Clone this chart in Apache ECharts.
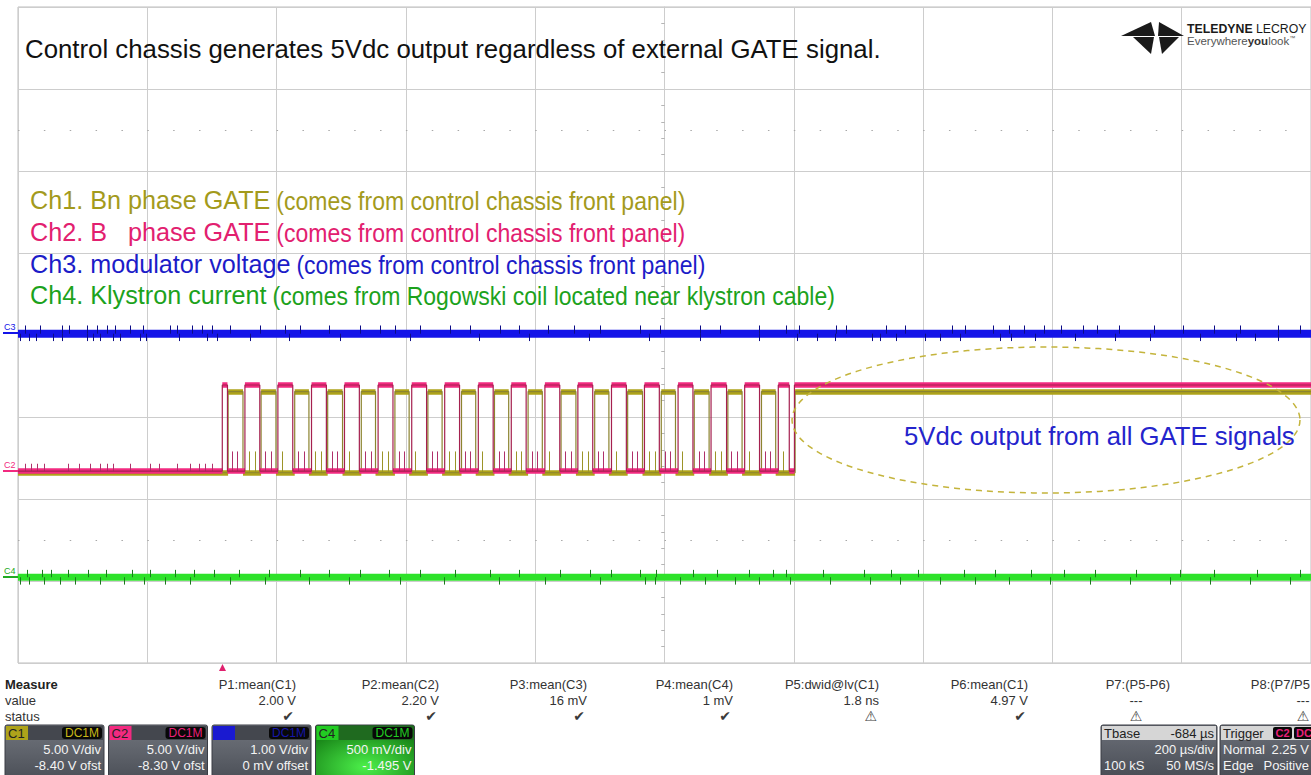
<!DOCTYPE html>
<html><head><meta charset="utf-8">
<script src="https://cdn.jsdelivr.net/npm/echarts@6/dist/echarts.min.js"></script>
<style>html,body{margin:0;padding:0;background:#fff;overflow:hidden}#c{width:1311px;height:775px}</style>
</head><body><div id="c"></div>
<script>
// ================= DATA =================
// Time axis: 200 us/div, 10 div, trigger (t = 0) at the pink C2 first rising edge
const timeWindow = [-316, 1684];               // us, left/right edge of the screen
const channelNames = ['C1', 'C2', 'C3', 'C4'];
const voltsPerDiv = [5.0, 5.0, 1.0, 0.5];       // V/div
const offsetVolts = [-8.40, -8.30, 0.0, -1.495]; // V offset
// Gate signal levels (V): [low, high]
const c1Levels = [0.0, 4.95];
const c2Levels = [0.0, 5.25];
const c3Level = 0.016;   // modulator voltage, V
const c4Level = 0.018;   // klystron current probe, V
// Ch2 (B phase GATE) edges, us
const c2Rise = [0, 35, 86, 138, 189, 241, 293, 344, 396, 447, 499, 550, 602, 653, 705, 756, 808, 860, 885];
const c2Fall = [8, 58, 109, 161, 212, 264, 316, 367, 419, 470, 522, 573, 625, 676, 728, 780, 831, 877];
// Ch1 (Bn phase GATE) edges, us
const c1Rise = [9, 60, 112, 163, 215, 267, 318, 370, 421, 473, 524, 576, 627, 679, 730, 782, 834, 886];
const c1Fall = [32, 83, 134, 186, 237, 289, 340, 392, 443, 495, 547, 598, 650, 701, 753, 804, 856];
// noise / crosstalk spikes, us
const c2CrossSpikes = [15, 23, 66, 75, 118, 126, 170, 178, 221, 230, 273, 281, 324, 333, 376, 384, 428, 436, 479, 487, 530, 539, 582, 590, 634, 642, 685, 693, 737, 745, 788, 797, 840, 848];
const c1CrossSpikes = [42, 51, 93, 144, 153, 196, 247, 256, 299, 351, 360, 402, 454, 463, 505, 557, 566, 609, 660, 669, 712, 763, 772, 815, 867];
const c2PreSpikes = [-305, -295, -286, -275, -239, -221, -205, -189, -178, -169, -143, -112, -97, -70, -50, -35, -26, -15];
const c3SpikesUp = [-305, -282, -248, -236, -209, -194, -178, -166, -143, -123, -81, -70, -46, -31, -15, 12, 58, 97, 120, 166, 213, 244, 267, 306, 352, 383, 430, 460, 504, 545, 584, 646, 677, 739, 770, 831, 873, 893, 949, 965, 1027, 1056, 1129, 1149, 1192, 1218, 1241, 1272, 1298, 1331, 1354, 1388, 1442, 1486, 1535, 1574, 1633, 1667];
const c3SpikesDown = [-313, -298, -287, -262, -248, -209, -200, -189, -169, -158, -127, -117, -66, -24, -8, 43, 104, 182, 290, 398, 475, 568, 661, 739, 831, 890, 920, 948, 1006, 1017, 1043, 1087, 1110, 1141, 1203, 1221, 1257, 1319, 1381, 1435, 1512, 1569, 1597, 1633];
const c4SpikesUp = [-302, -279, -264, -239, -208, -179, -140, -112, -73, -43, -12, 27, 73, 120, 166, 213, 259, 306, 360, 414, 460, 522, 569, 601, 647, 672, 728, 766, 815, 852, 872, 929, 993, 1035, 1076, 1147, 1195, 1252, 1302, 1350, 1413, 1481, 1534, 1601, 1667];
const c4SpikesDown = [-313, -298, -275, -251, -228, -189, -151, -120, -89, -50, 12, 66, 135, 197, 275, 344, 429, 499, 584, 654, 669, 708, 747, 793, 831, 878, 940, 1002, 1048, 1110, 1164, 1218, 1280, 1342, 1404, 1466, 1528, 1590, 1652];
// spike heights, V: [c1 cross, c2 cross, c2 pre, c3 up, c3 down, c4 up, c4 down]
const spikeHeights = [1.3, 1.2, 0.45, 0.10, -0.09, 0.045, -0.045];

// bottom measurement panel
const measureLabels = ['P1:mean(C1)', 'P2:mean(C2)', 'P3:mean(C3)', 'P4:mean(C4)', 'P5:dwid@lv(C1)', 'P6:mean(C1)', 'P7:(P5-P6)', 'P8:(P7/P5'];
const measureValues = ['2.00 V', '2.20 V', '16 mV', '1 mV', '1.8 ns', '4.97 V', '---', '---'];
const measureStatus = ['ok', 'ok', 'ok', 'ok', 'warn', 'ok', 'warn', 'warn'];
const chPerDivText = ['5.00 V/div', '5.00 V/div', '1.00 V/div', '500 mV/div'];
const chOffsetText = ['-8.40 V ofst', '-8.30 V ofst', '0 mV offset', '-1.495 V'];
const timebaseText = ['-684 \u00b5s', '200 \u00b5s/div', '100 kS', '50 MS/s'];
const triggerText = ['C2', 'DC', 'Normal', '2.25 V', 'Edge', 'Positive'];

// ================= STYLE =================
const COL = {
  c1: '#aea31a', c1Edge: '#8c8430', c1Txt: '#a39a1c', c1Spike: '#9c9428',
  c2: '#f22a80', c2Edge: '#a5214f', c2Txt: '#e2206f', c2Spike: '#b0306a',
  c3: '#1414e8', c3Spike: '#0c0c86', c3Txt: '#1c1cc8',
  c4: '#2ee22a', c4Spike: '#1c7a1c', c4Txt: '#1ca21c',
  grid: '#cdcdcd'
};
const FONT = "'Liberation Sans', Arial, sans-serif";
const measureCtx = document.createElement('canvas').getContext('2d');
function textWidth(s, font) { measureCtx.font = font; return measureCtx.measureText(s).width; }

// ================= BUILDERS =================
function stepPoints(rise, fall, lv) {
  const pts = [[timeWindow[0], lv[0]]];
  for (let i = 0; i < rise.length; i++) {
    pts.push([rise[i], lv[0]], [rise[i], lv[1]]);
    if (i < fall.length) pts.push([fall[i], lv[1]], [fall[i], lv[0]]);
  }
  const last = rise.length > fall.length ? lv[1] : lv[0];
  pts.push([timeWindow[1], last]);
  return pts;
}
function bands(rise, fall, lv) {
  const segs = [];
  let t = timeWindow[0];
  for (let i = 0; i < rise.length; i++) {
    segs.push({ coords: [[t, lv[0]], [rise[i], lv[0]]] });
    const end = i < fall.length ? fall[i] : timeWindow[1];
    segs.push({ coords: [[rise[i], lv[1]], [end, lv[1]]] });
    t = end;
  }
  if (rise.length === fall.length) segs.push({ coords: [[t, lv[0]], [timeWindow[1], lv[0]]] });
  return segs;
}
function spikes(times, base, h) {
  return times.map(t => ({ coords: [[t, base], [t, base + h]] }));
}
function chAxis(i) {
  const center = -offsetVolts[i];
  return { type: 'value', gridIndex: 0, show: false, min: center - 4 * voltsPerDiv[i], max: center + 4 * voltsPerDiv[i] };
}

const chart = echarts.init(document.getElementById('c'), null, { renderer: 'svg' });

// ---------- graphic overlay ----------
const G = [];
function txt(x, y, text, o, extra) {
  G.push(Object.assign({ type: 'text', x: x, y: y, z: 50, silent: true,
    style: Object.assign({ text: text, font: '13px ' + FONT, fill: '#222', textAlign: 'left', textVerticalAlign: 'middle' }, o || {}) }, extra || {}));
}
// title
txt(25, 49, 'Control chassis generates 5Vdc output regardless of external GATE signal.', { font: '25.8px ' + FONT, fill: '#111' });
// legend lines
const legendMain = ['Ch1. Bn phase GATE', 'Ch2. B   phase GATE', 'Ch3. modulator voltage', 'Ch4. Klystron current'];
const legendNote = ['(comes from control chassis front panel)', '(comes from control chassis front panel)', '(comes from control chassis front panel)', '(comes from Rogowski coil located near klystron cable)'];
const legendCols = [COL.c1Txt, COL.c2Txt, COL.c3Txt, COL.c4Txt];
const legendY = [200, 232, 264, 295];
const mainFont = '25.2px ' + FONT, noteFont = '25px ' + FONT;
legendMain.forEach((m, i) => {
  txt(30, legendY[i], m, { font: mainFont, fill: legendCols[i] });
  txt(30 + textWidth(m, mainFont) + 6, legendY[i] + 1, legendNote[i], { font: noteFont, fill: legendCols[i] }, { scaleX: 0.92 });
});
// annotation ellipse + text
(function () {
  const pts = [];
  for (let k = 0; k <= 120; k++) { const a = k / 120 * Math.PI * 2; pts.push([1046 + 254 * Math.cos(a), 420 + 73 * Math.sin(a)]); }
  G.push({ type: 'polyline', z: 40, silent: true, shape: { points: pts }, style: { stroke: '#c4b43c', lineWidth: 1.5, lineDash: [6, 5], fill: null } });
})();
txt(904, 436, '5Vdc output from all GATE signals', { font: '25.7px ' + FONT, fill: '#2424cc' });
// channel markers at left edge
[['C3', 327, COL.c3, 333], ['C2', 465, COL.c2, 471], ['C4', 571, '#22aa22', 577]].forEach(m => {
  txt(4, m[1], m[0], { font: '9px ' + FONT, fill: m[2] });
  G.push({ type: 'line', z: 49, silent: true, shape: { x1: 3, y1: m[3], x2: 18, y2: m[3] }, style: { stroke: m[2], lineWidth: 2 } });
});
// logo
G.push({ type: 'polygon', z: 50, silent: true, shape: { points: [[1121, 36], [1151, 22], [1155, 36]] }, style: { fill: '#1a1a1a' } });
G.push({ type: 'polygon', z: 50, silent: true, shape: { points: [[1158, 36], [1159, 22], [1184, 36]] }, style: { fill: '#1a1a1a' } });
G.push({ type: 'polygon', z: 50, silent: true, shape: { points: [[1133, 37], [1154, 37], [1151, 54]] }, style: { fill: '#1a1a1a' } });
G.push({ type: 'polygon', z: 50, silent: true, shape: { points: [[1159, 37], [1179, 37], [1162, 54]] }, style: { fill: '#1a1a1a' } });
G.push({ type: 'text', x: 1187, y: 29, z: 50, silent: true, style: { text: '{b|TELEDYNE} {r|LECROY}', textVerticalAlign: 'middle',
  rich: { b: { font: 'bold 12.3px ' + FONT, fill: '#1a1a1a' }, r: { font: '12.3px ' + FONT, fill: '#1a1a1a' } } } });
G.push({ type: 'text', x: 1187, y: 41, z: 50, silent: true, style: { text: '{r|Everywhere}{b|you}{r|look}{s|\u2122}', textVerticalAlign: 'middle',
  rich: { b: { font: 'bold 11.5px ' + FONT, fill: '#333' }, r: { font: '11.5px ' + FONT, fill: '#555' }, s: { font: '6px ' + FONT, fill: '#555', verticalAlign: 'top' } } } });
// trigger position marker
G.push({ type: 'polygon', z: 50, silent: true, shape: { points: [[219, 671], [226, 671], [222.5, 664]] }, style: { fill: '#e0206e' } });

// measurement panel
txt(5, 684, 'Measure', { font: 'bold 13px ' + FONT, fill: '#222' });
txt(5, 700, 'value', { fill: '#333' });
txt(5, 716, 'status', { fill: '#333' });
const measRight = [296, 439, 587, 733, 879, 1028, 1170, 1310];
const STATUS_FONT = "14px 'DejaVu Sans'";
measureLabels.forEach((l, i) => {
  const r = measRight[i];
  txt(r, 684, l, { textAlign: 'right', fill: '#333' });
  const centered = i >= 6;
  const cx = i === 6 ? r - 34 : 1303;
  txt(centered ? cx : r, 700, measureValues[i], { textAlign: centered ? 'center' : 'right', fill: '#333' });
  const st = measureStatus[i] === 'ok' ? '\u2714\ufe0e' : '\u26a0\ufe0e';
  txt(centered ? cx : r - 2, 716, st, { textAlign: centered ? 'center' : 'right', font: STATUS_FONT, fill: '#3a3a3a' });
});
// channel boxes
const chBoxCol = [COL.c1, COL.c2, '#1a1ad0', '#22cc22'];
const badgeTxt = ['#c8b818', '#e8207a', '#1616a8', '#22cc22'];
channelNames.forEach((n, i) => {
  const x = 5 + 103.5 * i, y = 725, w = 99, h = 56;
  const isC4 = i === 3;
  G.push({ type: 'rect', z: 45, silent: true, shape: { x: x, y: y, width: w, height: h, r: 2 },
    style: { fill: isC4 ? { type: 'radial', x: 0.5, y: 0.75, r: 0.75, colorStops: [{ offset: 0, color: '#4cf04a' }, { offset: 1, color: '#137a13' }] }
                         : { type: 'linear', x: 0, y: 0, x2: 0, y2: 1, colorStops: [{ offset: 0, color: '#70747c' }, { offset: 0.5, color: '#5e626a' }, { offset: 1, color: '#4a4e56' }] },
      stroke: '#3a3d44', lineWidth: 1 } });
  G.push({ type: 'rect', z: 46, silent: true, shape: { x: x + 1, y: y + 1, width: w - 2, height: 14 }, style: { fill: isC4 ? '#1f6a1f' : '#44474e' } });
  G.push({ type: 'rect', z: 47, silent: true, shape: { x: x + 1, y: y + 1, width: 22, height: 14 }, style: { fill: chBoxCol[i] } });
  txt(x + 3, y + 8, n, { font: '13px ' + FONT, fill: i === 2 ? '#1a1ad0' : '#222' });
  G.push({ type: 'rect', z: 47, silent: true, shape: { x: x + w - 42, y: y + 2, width: 40, height: 12, r: 3 }, style: { fill: '#080808' } });
  txt(x + w - 22, y + 8, 'DC1M', { textAlign: 'center', font: '12px ' + FONT, fill: badgeTxt[i] });
  txt(x + w - 3, y + 24, chPerDivText[i], { textAlign: 'right', fill: '#f4f4f4' });
  txt(x + w - 3, y + 40, chOffsetText[i], { textAlign: 'right', fill: '#f4f4f4' });
});
// timebase + trigger boxes
(function () {
  const x = 1101, y = 725, w = 116, h = 56;
  const boxFill = { type: 'linear', x: 0, y: 0, x2: 0, y2: 1, colorStops: [{ offset: 0, color: '#6c7079' }, { offset: 1, color: '#474b53' }] };
  G.push({ type: 'rect', z: 45, silent: true, shape: { x: x, y: y, width: w, height: h, r: 2 }, style: { fill: boxFill, stroke: '#3a3d44' } });
  G.push({ type: 'rect', z: 46, silent: true, shape: { x: x + 1, y: y + 1, width: w - 2, height: 14 }, style: { fill: '#d6d6d6' } });
  txt(x + 3, y + 8, 'Tbase', { fill: '#222' });
  txt(x + w - 3, y + 8, timebaseText[0], { textAlign: 'right', fill: '#222' });
  txt(x + w - 3, y + 24, timebaseText[1], { textAlign: 'right', fill: '#f4f4f4' });
  txt(x + 3, y + 40, timebaseText[2], { fill: '#f4f4f4' });
  txt(x + w - 3, y + 40, timebaseText[3], { textAlign: 'right', fill: '#f4f4f4' });
  const x2 = 1220, w2 = 100;
  G.push({ type: 'rect', z: 45, silent: true, shape: { x: x2, y: y, width: w2, height: h, r: 2 }, style: { fill: boxFill, stroke: '#3a3d44' } });
  G.push({ type: 'rect', z: 46, silent: true, shape: { x: x2 + 1, y: y + 1, width: w2 - 2, height: 14 }, style: { fill: '#d6d6d6' } });
  txt(x2 + 3, y + 8, 'Trigger', { fill: '#222' });
  G.push({ type: 'rect', z: 47, silent: true, shape: { x: x2 + 53, y: y + 2, width: 19, height: 12, r: 2 }, style: { fill: '#080808' } });
  txt(x2 + 62.5, y + 8, triggerText[0], { textAlign: 'center', font: 'bold 11px ' + FONT, fill: '#e8207a' });
  G.push({ type: 'rect', z: 47, silent: true, shape: { x: x2 + 74, y: y + 2, width: 24, height: 12, r: 2 }, style: { fill: '#080808' } });
  txt(x2 + 76, y + 8, triggerText[1], { font: 'bold 11px ' + FONT, fill: '#e8207a' });
  txt(x2 + 3, y + 24, triggerText[2], { fill: '#f4f4f4' });
  txt(1309, y + 24, triggerText[3], { textAlign: 'right', fill: '#f4f4f4' });
  txt(x2 + 3, y + 40, triggerText[4], { fill: '#f4f4f4' });
  txt(1309, y + 40, triggerText[5], { textAlign: 'right', fill: '#f4f4f4' });
})();

// ================= OPTION =================
const gridLine = { show: true, lineStyle: { color: COL.grid, width: 1 } };
const option = {
  animation: false,
  backgroundColor: '#ffffff',
  grid: { left: 18, top: 7, right: 0, bottom: 112, show: true, borderColor: '#bdbdbd', borderWidth: 1, containLabel: false },
  xAxis: [
    { type: 'value', gridIndex: 0, min: -5, max: 5, interval: 1, axisLine: { show: false }, axisTick: { show: false }, axisLabel: { show: false }, splitLine: gridLine },
    { type: 'value', gridIndex: 0, show: false, min: timeWindow[0], max: timeWindow[1] }
  ],
  yAxis: [
    { type: 'value', gridIndex: 0, min: -4, max: 4, interval: 1, axisLine: { show: true, onZero: true, onZeroAxisIndex: 0, lineStyle: { color: COL.grid } },
      axisTick: { show: false }, minorTick: { show: true, splitNumber: 5, length: 3, lineStyle: { color: '#b5b5b5' } }, axisLabel: { show: false }, splitLine: gridLine },
    { type: 'value', gridIndex: 0, min: -4, max: 4, interval: 1, axisLine: { show: false, onZero: true, onZeroAxisIndex: 0 },
      axisTick: { show: false, inside: true }, minorTick: { show: true, splitNumber: 5, length: 3, lineStyle: { color: '#b5b5b5' } }, axisLabel: { show: false }, splitLine: { show: false } },
    chAxis(0), chAxis(1), chAxis(2), chAxis(3)
  ],
  graphic: { elements: G },
  series: [
    { type: 'line', xAxisIndex: 0, yAxisIndex: 0, data: [], silent: true,
      markLine: { silent: true, symbol: ['none', 'none'], label: { show: false },
        lineStyle: { color: '#a8a8a8', type: [1.5, 24.36], width: 1 }, data: [{ yAxis: 2.5 }, { yAxis: -2.5 }] } },
    // C4 klystron current
    { type: 'line', xAxisIndex: 1, yAxisIndex: 5, symbol: 'none', data: [[timeWindow[0], c4Level], [timeWindow[1], c4Level]], lineStyle: { color: COL.c4, width: 7 }, z: 3 },
    { type: 'lines', coordinateSystem: 'cartesian2d', xAxisIndex: 1, yAxisIndex: 5, data: spikes(c4SpikesUp, c4Level, spikeHeights[5]).concat(spikes(c4SpikesDown, c4Level, spikeHeights[6])), lineStyle: { color: COL.c4Spike, width: 1, opacity: 1 }, z: 4 },
    // C3 modulator voltage
    { type: 'line', xAxisIndex: 1, yAxisIndex: 4, symbol: 'none', data: [[timeWindow[0], c3Level], [timeWindow[1], c3Level]], lineStyle: { color: COL.c3, width: 8 }, z: 3 },
    { type: 'lines', coordinateSystem: 'cartesian2d', xAxisIndex: 1, yAxisIndex: 4, data: spikes(c3SpikesUp, c3Level, spikeHeights[3]).concat(spikes(c3SpikesDown, c3Level, spikeHeights[4])), lineStyle: { color: COL.c3Spike, width: 1, opacity: 1 }, z: 4 },
    // C1 olive gate
    { type: 'lines', coordinateSystem: 'cartesian2d', xAxisIndex: 1, yAxisIndex: 2, data: bands(c1Rise, c1Fall, c1Levels), lineStyle: { color: COL.c1, width: 5.5, opacity: 1 }, z: 5 },
    { type: 'line', xAxisIndex: 1, yAxisIndex: 2, symbol: 'none', data: stepPoints(c1Rise, c1Fall, c1Levels), lineStyle: { color: COL.c1Edge, width: 1.2 }, z: 5 },
    { type: 'lines', coordinateSystem: 'cartesian2d', xAxisIndex: 1, yAxisIndex: 2, data: spikes(c1CrossSpikes, c1Levels[0], spikeHeights[0]), lineStyle: { color: COL.c1Spike, width: 1, opacity: 1 }, z: 5 },
    // C2 pink gate
    { type: 'lines', coordinateSystem: 'cartesian2d', xAxisIndex: 1, yAxisIndex: 3, data: bands(c2Rise, c2Fall, c2Levels), lineStyle: { color: COL.c2, width: 5.5, opacity: 1 }, z: 6 },
    { type: 'line', xAxisIndex: 1, yAxisIndex: 3, symbol: 'none', data: stepPoints(c2Rise, c2Fall, c2Levels), lineStyle: { color: COL.c2Edge, width: 1.2 }, z: 6 },
    { type: 'lines', coordinateSystem: 'cartesian2d', xAxisIndex: 1, yAxisIndex: 3, data: spikes(c2CrossSpikes, c2Levels[0], spikeHeights[1]).concat(spikes(c2PreSpikes, c2Levels[0], spikeHeights[2])), lineStyle: { color: COL.c2Spike, width: 1, opacity: 1 }, z: 6 }
  ]
};
chart.setOption(option);
</script></body></html>
